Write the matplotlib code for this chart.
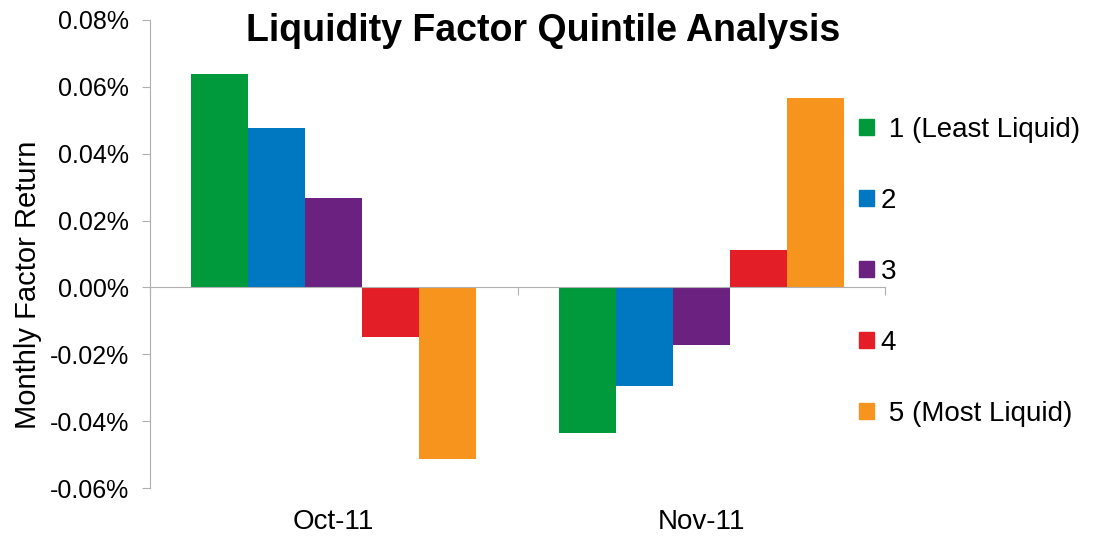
import matplotlib
matplotlib.use('Agg')
import matplotlib.pyplot as plt
from matplotlib.patches import Patch
from matplotlib.ticker import FuncFormatter
import numpy as np

# dados (retorno mensal em %)
months = ['Oct-11', 'Nov-11']
quintiles = [' 1 (Least Liquid)', '2', '3', '4', ' 5 (Most Liquid)']
q1 = [0.0639, -0.0436]
q2 = [0.0478, -0.0296]
q3 = [0.0269, -0.0173]
q4 = [-0.0149, 0.0113]
q5 = [-0.0513, 0.0567]
colors = ['#009A3D', '#0077C1', '#6A2180', '#E31E26', '#F7941D']
yticks = [-0.06, -0.04, -0.02, 0.0, 0.02, 0.04, 0.06, 0.08]

plt.rcParams['font.family'] = ['Liberation Sans', 'DejaVu Sans']

fig = plt.figure(figsize=(11.07, 5.37), dpi=100)
ax = fig.add_axes([0.1355, 0.0912, 0.664, 0.8716])

x = np.arange(len(months))
w = 0.155
series = [q1, q2, q3, q4, q5]
for i, vals in enumerate(series):
    ax.bar(x + (i - 2) * w, vals, width=w, color=colors[i], label=quintiles[i],
           edgecolor='none', zorder=2)

ax.set_xlim(-0.5, 1.5)
ax.set_ylim(-0.06, 0.08)
ax.set_yticks(yticks)
ax.yaxis.set_major_formatter(FuncFormatter(lambda v, p: f'{v:.2f}%'))
ax.tick_params(axis='y', labelsize=18, length=6, color='#b0b0b0', pad=9)

# linha do zero com marcas entre as categorias
for s in ['top', 'right']:
    ax.spines[s].set_visible(False)
ax.spines['left'].set_color('#b0b0b0')
ax.spines['bottom'].set_position(('data', 0))
ax.spines['bottom'].set_color('#b0b0b0')
ax.spines['bottom'].set_zorder(3)
ax.set_xticks([-0.5, 0.5, 1.5])
ax.set_xticklabels([])
ax.tick_params(axis='x', length=6, color='#b0b0b0', direction='out')
for xi, m in zip(x, months):
    ax.text(xi, -0.0701, m, ha='center', va='center', fontsize=20,
            transform=ax.transData, clip_on=False)

ax.set_ylabel('Monthly Factor Return', fontsize=21)
ax.yaxis.set_label_coords(-0.147, 0.434)

fig.text(0.491, 0.942, 'Liquidity Factor Quintile Analysis', ha='center', va='center',
         fontsize=27, fontweight='bold')

handles = [Patch(color=c) for c in colors]
fig.legend(handles, quintiles, loc='center left', bbox_to_anchor=(0.753, 0.494),
           frameon=False, fontsize=20, handlelength=0.54, handleheight=0.54,
           handletextpad=0.25, labelspacing=1.62)

plt.savefig('out.png', dpi=100, facecolor='white')
plt.close()
